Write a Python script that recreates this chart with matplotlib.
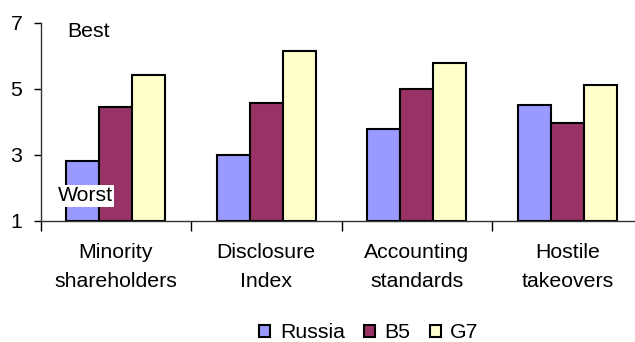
import matplotlib
matplotlib.use("Agg")
import matplotlib.pyplot as plt
import numpy as np

categories = ["Minority\nshareholders", "Disclosure\nIndex", "Accounting\nstandards", "Hostile\ntakeovers"]
russia = [2.82, 3.0, 3.78, 4.51]
b5 = [4.45, 4.57, 5.0, 3.97]
g7 = [5.42, 6.15, 5.79, 5.11]
series_names = ["Russia", "B5", "G7"]
colors = ["#9999FF", "#993366", "#FFFFCC"]
yticks = [1, 3, 5, 7]

plt.rcParams["font.family"] = ["Liberation Sans", "DejaVu Sans"]
FS = 15.3

W, H = 635, 342
fig = plt.figure(figsize=(W / 100, H / 100), dpi=100)
ax = fig.add_axes([40.5 / W, 121 / H, 602 / W, (221 - 22.7) / H])

x = np.arange(len(categories))
bw = 0.22
for i, (vals, name, c) in enumerate(zip([russia, b5, g7], series_names, colors)):
    ax.bar(x + (i - 1) * bw, np.array(vals) - 1, bw, bottom=1, color=c,
           edgecolor="black", linewidth=1.5, label=name, zorder=2)

ax.set_xlim(-0.5, len(categories) - 0.5)
ax.set_ylim(1, 7)
ax.set_yticks(yticks)
ax.set_yticklabels([str(t) for t in yticks], fontsize=FS)
ax.tick_params(axis="y", length=5, width=1, direction="out", pad=8)

ax.set_xticks(x)
ax.set_xticklabels(categories, fontsize=FS, linespacing=1.68)
ax.tick_params(axis="x", which="major", length=0, pad=16)
ax.set_xticks(np.arange(len(categories) + 1) - 0.5, minor=True)
ax.tick_params(axis="x", which="minor", length=7, width=1, direction="out")

for s in ["top", "right"]:
    ax.spines[s].set_visible(False)
for s in ["left", "bottom"]:
    ax.spines[s].set_color("#333333")
    ax.spines[s].set_linewidth(1)

ax.text(-0.324, 6.73, "Best", fontsize=FS, va="center", ha="left")
ax.text(-0.385, 1.76, "Worst", fontsize=FS, va="center", ha="left", zorder=3,
        bbox=dict(facecolor="white", edgecolor="none", pad=1.0))

leg = fig.legend(loc="center", bbox_to_anchor=(369 / W, 1 - 333 / H), ncol=3,
                 frameon=False, fontsize=FS, handlelength=0.52, handleheight=0.52,
                 handletextpad=0.45, columnspacing=0.9, borderpad=0)

fig.savefig("out.png", dpi=100)
